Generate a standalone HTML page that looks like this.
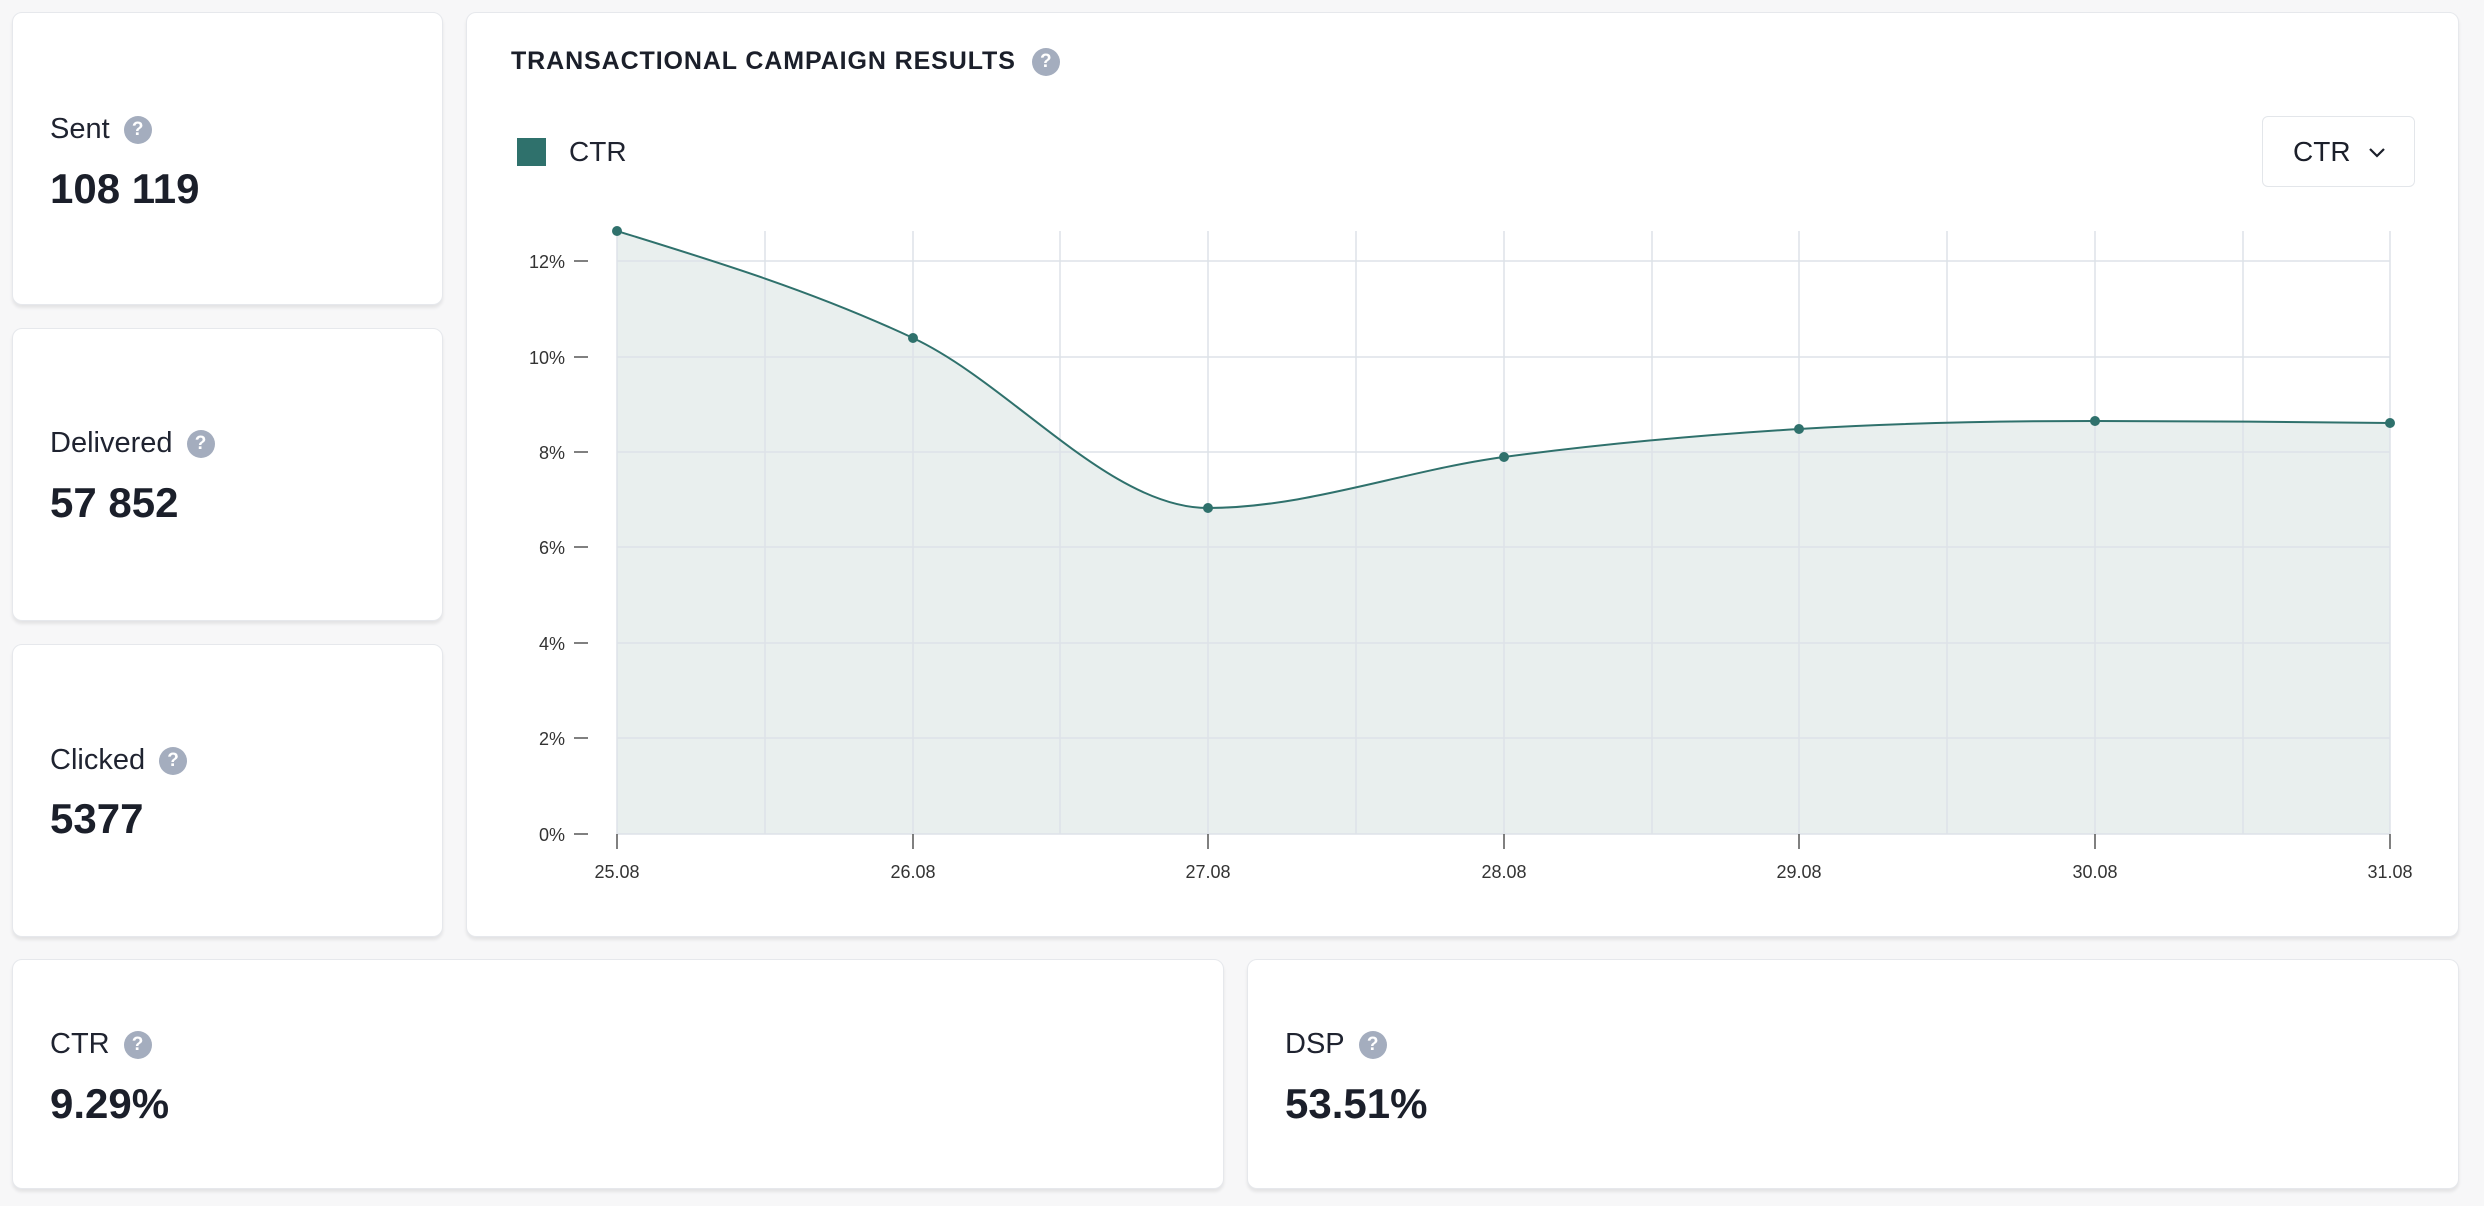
<!DOCTYPE html>
<html><head><meta charset="utf-8"><style>
html,body{margin:0;padding:0}
body{width:2484px;height:1206px;background:#f7f7f8;position:relative;overflow:hidden;font-family:"Liberation Sans",sans-serif;color:#1b1f2a}
.card{position:absolute;background:#fff;border:1px solid #e6e8ec;border-radius:10px;box-shadow:0 3px 3px rgba(0,0,0,0.08);box-sizing:border-box}
.lbl{position:absolute;left:37px;font-size:29px;color:#1f2330;display:flex;align-items:center}
.val{position:absolute;left:37px;font-size:42px;font-weight:bold;color:#1b1f2a;top:0}
.q{display:inline-block;width:28px;height:28px;border-radius:50%;background:#a4adbe;color:#fff;font-size:19px;font-weight:bold;text-align:center;line-height:28px;margin-left:14px}
</style></head><body>
<div class="card" style="left:12px;top:12px;width:431px;height:293px"><div class="lbl" style="top:100px">Sent<span class="q">?</span></div><div class="val" style="top:152px">108 119</div></div>
<div class="card" style="left:12px;top:328px;width:431px;height:293px"><div class="lbl" style="top:98px">Delivered<span class="q">?</span></div><div class="val" style="top:150px">57 852</div></div>
<div class="card" style="left:12px;top:644px;width:431px;height:293px"><div class="lbl" style="top:99px">Clicked<span class="q">?</span></div><div class="val" style="top:150px">5377</div></div>
<div class="card" style="left:12px;top:959px;width:1212px;height:230px"><div class="lbl" style="top:68px">CTR<span class="q">?</span></div><div class="val" style="top:120px">9.29%</div></div>
<div class="card" style="left:1247px;top:959px;width:1212px;height:230px"><div class="lbl" style="top:68px">DSP<span class="q">?</span></div><div class="val" style="top:120px">53.51%</div></div>
<div class="card" style="left:466px;top:12px;width:1993px;height:925px">
 <div style="position:absolute;left:44px;top:34px;font-size:25px;font-weight:bold;letter-spacing:0.9px;display:flex;align-items:center">TRANSACTIONAL CAMPAIGN RESULTS<span class="q" style="margin-left:16px;letter-spacing:0">?</span></div>
 <div style="position:absolute;left:50px;top:125px;width:29px;height:28px;background:#2f716c"></div>
 <div style="position:absolute;left:102px;top:123px;font-size:28px;color:#1f2330">CTR</div>
 <div style="position:absolute;left:1795px;top:103px;width:153px;height:71px;border:1px solid #e3e6ea;border-radius:6px;box-sizing:border-box;font-size:28px;line-height:69px;padding-left:30px">CTR<svg width="20" height="12" style="position:absolute;left:104px;top:30px"><path d="M3 2 L10 9 L17 2" fill="none" stroke="#1b1f2a" stroke-width="2.2"/></svg></div>
</div>
<svg style="position:absolute;left:0;top:0" width="2484" height="1206">
 <path d="M617,231 C715.7,261.4 814.3,291.7 913,338 C1011.3,384.1 1109.7,508 1208,508 C1306.7,508 1405.3,470.2 1504,457 C1602.3,443.9 1700.7,435 1799,429 C1897.7,423 1996.3,421 2095,421 C2193.3,421 2291.7,422 2390,423 L2390,834 L617,834 Z" fill="#e9efee"/>
 <g stroke="#dde2e8" stroke-width="1.5">
  <line x1="617" y1="261" x2="2390" y2="261"/><line x1="617" y1="357" x2="2390" y2="357"/><line x1="617" y1="452" x2="2390" y2="452"/><line x1="617" y1="547" x2="2390" y2="547"/><line x1="617" y1="643" x2="2390" y2="643"/><line x1="617" y1="738" x2="2390" y2="738"/><line x1="617" y1="834" x2="2390" y2="834"/>
  <line x1="617" y1="231" x2="617" y2="834"/><line x1="765" y1="231" x2="765" y2="834"/><line x1="913" y1="231" x2="913" y2="834"/><line x1="1060" y1="231" x2="1060" y2="834"/><line x1="1208" y1="231" x2="1208" y2="834"/><line x1="1356" y1="231" x2="1356" y2="834"/><line x1="1504" y1="231" x2="1504" y2="834"/><line x1="1652" y1="231" x2="1652" y2="834"/><line x1="1799" y1="231" x2="1799" y2="834"/><line x1="1947" y1="231" x2="1947" y2="834"/><line x1="2095" y1="231" x2="2095" y2="834"/><line x1="2243" y1="231" x2="2243" y2="834"/><line x1="2390" y1="231" x2="2390" y2="834"/>
 </g>
 <g stroke="#555" stroke-width="1.5">
  <line x1="574" y1="261" x2="588" y2="261"/><line x1="574" y1="357" x2="588" y2="357"/><line x1="574" y1="452" x2="588" y2="452"/><line x1="574" y1="547" x2="588" y2="547"/><line x1="574" y1="643" x2="588" y2="643"/><line x1="574" y1="738" x2="588" y2="738"/><line x1="574" y1="834" x2="588" y2="834"/>
  <line x1="617" y1="834" x2="617" y2="849"/><line x1="913" y1="834" x2="913" y2="849"/><line x1="1208" y1="834" x2="1208" y2="849"/><line x1="1504" y1="834" x2="1504" y2="849"/><line x1="1799" y1="834" x2="1799" y2="849"/><line x1="2095" y1="834" x2="2095" y2="849"/><line x1="2390" y1="834" x2="2390" y2="849"/>
 </g>
 <g font-family="Liberation Sans" font-size="18" fill="#333" text-anchor="end">
  <text x="565" y="268">12%</text><text x="565" y="364">10%</text><text x="565" y="459">8%</text><text x="565" y="554">6%</text><text x="565" y="650">4%</text><text x="565" y="745">2%</text><text x="565" y="841">0%</text>
 </g>
 <g font-family="Liberation Sans" font-size="18" fill="#333" text-anchor="middle">
  <text x="617" y="878">25.08</text><text x="913" y="878">26.08</text><text x="1208" y="878">27.08</text><text x="1504" y="878">28.08</text><text x="1799" y="878">29.08</text><text x="2095" y="878">30.08</text><text x="2390" y="878">31.08</text>
 </g>
 <path d="M617,231 C715.7,261.4 814.3,291.7 913,338 C1011.3,384.1 1109.7,508 1208,508 C1306.7,508 1405.3,470.2 1504,457 C1602.3,443.9 1700.7,435 1799,429 C1897.7,423 1996.3,421 2095,421 C2193.3,421 2291.7,422 2390,423" fill="none" stroke="#2f716c" stroke-width="2"/>
 <g fill="#2f716c">
  <circle cx="617" cy="231" r="5"/><circle cx="913" cy="338" r="5"/><circle cx="1208" cy="508" r="5"/><circle cx="1504" cy="457" r="5"/><circle cx="1799" cy="429" r="5"/><circle cx="2095" cy="421" r="5"/><circle cx="2390" cy="423" r="5"/>
 </g>
</svg>
</body></html>
